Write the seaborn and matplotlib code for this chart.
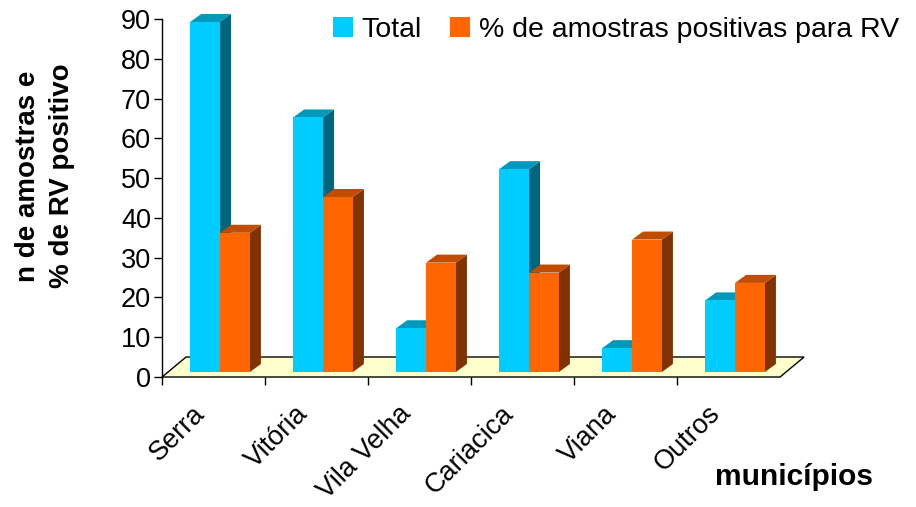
import matplotlib
matplotlib.use("Agg")
import matplotlib.pyplot as plt
from matplotlib.patches import Polygon
import pandas as pd
import seaborn as sns

# dados
municipios = ["Serra", "Vitória", "Vila Velha", "Cariacica", "Viana", "Outros"]
total = [88, 64, 11, 51, 6, 18]
perc_positivas = [35, 44, 27.5, 25, 33.3, 22.4]
series = ["Total", "% de amostras positivas para RV"]
cores = ["#00CCFF", "#FF6600"]
cores_lado = ["#006680", "#803300"]
cores_topo = ["#0099BB", "#C04D00"]


def main():
    sns.set_theme(style="white")
    plt.rcParams['font.family'] = ['Liberation Sans', 'DejaVu Sans']
    plt.rcParams['text.color'] = 'black'
    plt.rcParams['xtick.color'] = 'black'
    plt.rcParams['ytick.color'] = 'black'
    plt.rcParams['xtick.labelcolor'] = 'black'
    plt.rcParams['ytick.labelcolor'] = 'black'

    df = pd.DataFrame({
        "municipio": municipios * 2,
        "valor": total + perc_positivas,
        "serie": [series[0]] * len(municipios) + [series[1]] * len(municipios),
    })

    fig = plt.figure(figsize=(9.16, 5.07), dpi=100)
    ax = fig.add_axes([0.1769, 0.2564, 0.6747, 0.7061])

    sns.barplot(data=df, x="municipio", y="valor", hue="serie",
                palette=cores, width=0.58, saturation=1, ax=ax,
                linewidth=0, legend=False)

    ax.set_xlim(-0.5, 5.5)
    ax.set_ylim(0, 90)

    # deslocamento de profundidade (pseudo 3D, como no Excel)
    px_x = 6.0 / 618
    px_y = 90.0 / 358
    base_dx, base_dy = 6.5 * px_x, 5 * px_y
    prof_dx, prof_dy = 11 * px_x, 8 * px_y

    # piso
    fdx, fdy = 24 * px_x, 20 * px_y
    piso = Polygon([(-0.5, 0), (5.5, 0), (5.5 + fdx, fdy), (-0.5 + fdx, fdy)],
                   closed=True, facecolor="#FFFFCC", edgecolor="black",
                   linewidth=1.0, zorder=1, clip_on=False)
    ax.add_patch(piso)

    n = len(municipios)
    for i, bar in enumerate(ax.patches[:2 * n]):
        s = i // n
        bar.set_x(bar.get_x() + base_dx)
        bar.set_y(base_dy)
        bar.set_zorder(2 + s)
        bar.set_clip_on(False)
        x0, w, h = bar.get_x(), bar.get_width(), bar.get_height()
        y1 = base_dy + h
        lado = Polygon([(x0 + w, base_dy), (x0 + w + prof_dx, base_dy + prof_dy),
                        (x0 + w + prof_dx, y1 + prof_dy), (x0 + w, y1)],
                       closed=True, facecolor=cores_lado[s], edgecolor="none",
                       zorder=2 + s - 0.1, clip_on=False)
        topo = Polygon([(x0, y1), (x0 + w, y1), (x0 + w + prof_dx, y1 + prof_dy),
                        (x0 + prof_dx, y1 + prof_dy)],
                       closed=True, facecolor=cores_topo[s], edgecolor="none",
                       zorder=2 + s - 0.1, clip_on=False)
        ax.add_patch(lado)
        ax.add_patch(topo)

    for sp in ["top", "right", "bottom"]:
        ax.spines[sp].set_visible(False)
    ax.spines["left"].set_color("black")
    ax.spines["left"].set_linewidth(1.0)

    ax.set_yticks(range(0, 91, 10))
    ax.tick_params(axis="y", direction="out", length=6, width=1, color="black",
                   labelsize=19.5, pad=2, left=True)
    # rótulos um pouco à esquerda do centro, como no Excel
    ax.set_xticks([i - 0.21 for i in range(n)])
    ax.set_xticklabels(municipios, rotation=45, ha="right",
                       rotation_mode="anchor", fontsize=19.5)
    ax.set_xticks([i - 0.5 for i in range(n)], minor=True)
    ax.tick_params(axis="x", which="major", length=0, pad=17)
    ax.tick_params(axis="x", which="minor", direction="out", length=6,
                   width=1, color="black", bottom=True)
    ax.set_xlabel("")
    ax.set_ylabel("")

    fig.text(45 / 916, 1 - 176 / 507, "n de amostras e\n% de RV positivo",
             rotation=90, ha="center", va="center", multialignment="center",
             fontsize=20, fontweight="bold", linespacing=1.4)
    fig.text(794 / 916, 1 - 477 / 507, "municípios", ha="center", va="center",
             fontsize=21.5, fontweight="bold")

    handles = [plt.Rectangle((0, 0), 1, 1, facecolor=c, edgecolor="none")
               for c in cores]
    fig.legend(handles, series, loc="upper right",
               bbox_to_anchor=(0.997, 0.995), ncol=2, frameon=False,
               fontsize=20.5, handlelength=0.7, handleheight=0.7,
               handletextpad=0.3, columnspacing=1.0, borderaxespad=0.1)

    fig.savefig("out.png", dpi=100)


if __name__ == "__main__":
    main()
